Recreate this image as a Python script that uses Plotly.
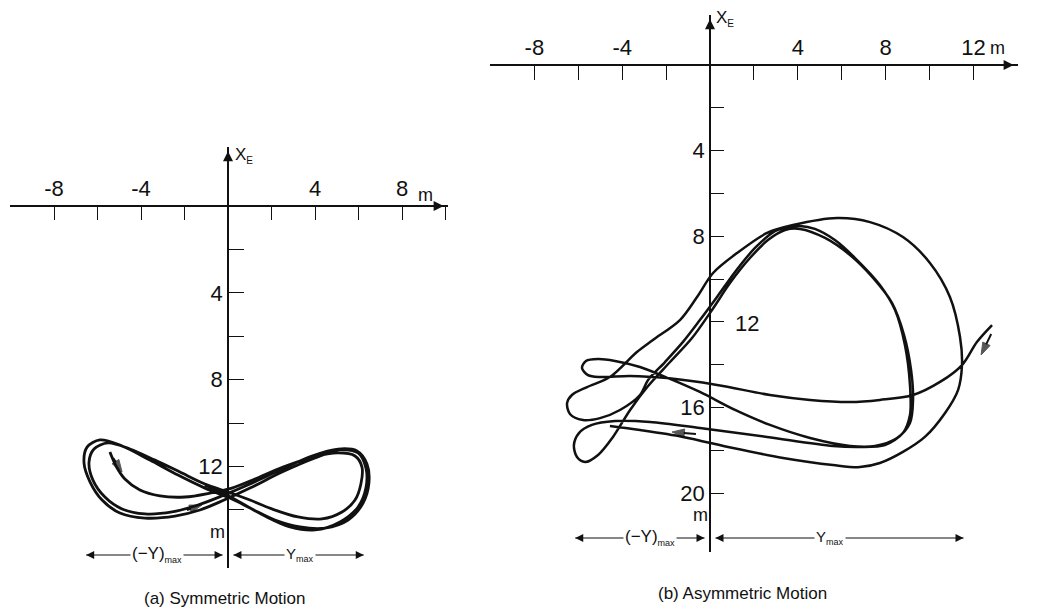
import plotly.graph_objects as go

W, H = 1047, 615
INK = "#111111"
FONT = "Liberation Sans"

# ---------------------------------------------------------------------------
# (a) Symmetric motion: drift trace, Y_E (across, m) and X_E (downward, m)
# ---------------------------------------------------------------------------
sym_y = [-5.43, -5.15, -4.74, -4.05, -3.13, -1.98, -0.83, 0.18,
         1.24, 2.53, 3.91, 5.06, 5.84, 6.16, 6.11, 5.84, 5.24, 4.32, 3.22, 2.02, 1.01, 0.0,
         -1.06, -2.21, -3.36, -4.51, -5.52, -6.16, -6.39, -6.21, -5.66, -4.87, -3.82, -2.57, -1.38, -0.28,
         1.01, 2.39, 3.86, 5.06, 5.93, 6.39, 6.48, 6.21, 5.52, 4.46, 3.31, 2.16, 1.10, 0.09,
         -1.06, -2.30, -3.59, -4.87, -5.89, -6.48, -6.62, -6.34, -5.79, -4.97, -3.82, -2.44, -1.29, -0.18,
         1.01, 2.48, 4.00, 5.15, 5.98, 6.34, 6.34, 5.98, 5.15, 4.00, 2.85, 1.70, 0.78, -0.14, -1.06]
sym_x = [11.34, 11.98, 12.58, 13.09, 13.36, 13.41, 13.23, 13.00,
         12.58, 12.03, 11.57, 11.38, 11.52, 12.03, 12.81, 13.55, 14.10, 14.42, 14.33, 13.96, 13.55, 13.18,
         12.81, 12.26, 11.71, 11.20, 10.92, 11.20, 11.80, 12.63, 13.41, 13.96, 14.19, 14.10, 13.78, 13.36,
         12.81, 12.17, 11.52, 11.20, 11.29, 11.89, 12.76, 13.69, 14.47, 14.84, 14.79, 14.47, 13.96, 13.46,
         13.00, 12.40, 11.71, 11.06, 10.78, 11.11, 11.84, 12.72, 13.55, 14.15, 14.38, 14.29, 14.01, 13.55,
         13.00, 12.26, 11.61, 11.24, 11.38, 12.07, 13.00, 13.87, 14.56, 14.93, 14.79, 14.29, 13.78, 13.27, 12.86]

# direction marks beside the trace: tail -> head (Y_E, X_E)
sym_dir_tail_y = [-5.28, -1.89]
sym_dir_tail_x = [11.61, 14.01]
sym_dir_head_y = [-4.87, -1.20]
sym_dir_head_x = [12.26, 13.78]

# lateral extents marked below the trace
sym_neg_ymax = -6.67
sym_ymax = 6.39

# ---------------------------------------------------------------------------
# (b) Asymmetric motion
# ---------------------------------------------------------------------------
asym_y = [12.85, 12.16, 11.48, 10.48, 9.25, 7.74, 6.38, 4.56, 2.73, 0.32, -1.96, -3.64, -5.01,
          -5.56, -5.83, -5.65, -5.10, -4.33, -3.19,
          -1.82, -0.46, 1.14, 2.73, 4.56, 6.38,
          7.52, 8.52, 9.11, 9.25, 9.16, 8.84, 8.29, 7.43, 6.38, 5.24, 4.10, 3.42,
          2.64, 1.82, 0.91, 0.09, -0.82, -1.82, -2.82, -3.64, -4.42, -5.10, -5.69,
          -6.06, -6.20, -5.97, -5.38, -4.33, -2.73, -0.46, 2.60, 5.60, 6.83,
          7.97, 8.79, 9.11, 9.11, 8.88, 8.43, 7.74, 6.61, 5.69, 4.78, 4.10,
          3.64, 2.96, 2.05, 1.14, 0.32, -0.46, -1.23, -2.05, -2.82,
          -3.19, -4.10, -5.01, -5.79, -6.38, -6.51, -6.29, -5.60, -4.56, -3.33, -2.60,
          -1.37, -0.59, 0.14, 1.23, 2.60, 3.78, 5.79, 7.29, 8.79, 10.02, 10.93, 11.39, 11.48,
          11.30, 10.71, 9.79, 8.79, 7.74, 6.83, 5.60, 3.33, 1.05, -1.23, -3.19, -4.56]
asym_x = [12.15, 12.94, 14.02, 14.81, 15.42, 15.65, 15.75, 15.65, 15.42, 14.95, 14.63, 14.53, 14.58,
          14.49, 14.16, 13.83, 13.74, 13.83, 14.11,
          14.67, 15.28, 16.12, 16.82, 17.43, 17.80,
          17.80, 17.43, 16.73, 15.65, 14.25, 12.62, 11.12, 9.95, 8.88, 8.08, 7.66, 7.71,
          8.18, 9.02, 10.19, 11.45, 12.76, 13.88, 15.00, 16.12, 17.38, 18.22, 18.55,
          18.32, 17.76, 17.20, 16.82, 16.64, 16.68, 16.96, 17.38, 17.80, 17.85,
          17.76, 17.20, 16.36, 14.95, 13.08, 11.45, 10.28, 9.02, 8.18, 7.66, 7.52,
          7.57, 7.76, 8.55, 9.67, 10.84, 11.92, 12.94, 13.88, 14.72,
          15.42, 16.12, 16.50, 16.59, 16.31, 15.79, 15.42, 15.05, 14.58, 13.41, 12.85,
          11.92, 10.84, 9.72, 8.79, 7.85, 7.48, 7.15, 7.34, 8.04, 9.25, 10.84, 12.71, 14.02,
          15.19, 16.26, 17.38, 18.08, 18.60, 18.79, 18.69, 18.36, 17.90, 17.38, 17.06, 16.87]

asym_dir_tail_y = [12.81, -0.64]
asym_dir_tail_x = [12.57, 17.24]
asym_dir_head_y = [12.35, -1.73]
asym_dir_head_x = [13.55, 17.15]

asym_neg_ymax = -6.29
asym_ymax = 11.70

# ---------------------------------------------------------------------------
# ticks: labelled (major) and plain (minor)
# ---------------------------------------------------------------------------
a_h_major = [-8, -4, 4, 8]
a_h_labels = ["-8", "-4", "4", "8"]
a_h_minor = [-10, -6, -2, 2, 6, 10]
a_v_major = [4, 8, 12]
a_v_labels = ["4", "8", "12"]
a_v_minor = [2, 6, 10, 14]

b_h_major = [-8, -4, 4, 8, 12]
b_h_labels = ["-8", "-4", "4", "8", "12"]
b_h_minor = [-10, -6, -2, 2, 6, 10, 14]
b_v_major = [4, 8, 16, 20]
b_v_labels = ["4", "8", "16", "20"]
b_v_minor = [2, 6, 10, 12, 14, 18]


def frame(ox, oy, sx, sy, left, right, top, bottom):
    """Axis ranges/domains for a crossed-axes frame whose origin sits at
    pixel (ox, oy) with sx, sy pixels per metre."""
    xr = [(left - ox) / sx, (right - ox) / sx]
    yr = [(bottom - oy) / sy, (top - oy) / sy]
    xdom = [left / W, right / W]
    ydom = [1 - bottom / H, 1 - top / H]
    return xr, yr, xdom, ydom, 1 - oy / H, ox / W


fa = frame(228, 206, 21.75, 21.7, 10, 448, 147, 568)
fb = frame(710, 65, 21.95, 21.4, 490, 1018, 15, 552)

tickfont = dict(family=FONT, size=22, color=INK)
axis_common = dict(showline=True, linecolor=INK, linewidth=1.7, ticks="inside",
                   tickcolor=INK, tickwidth=1.4, showgrid=False, zeroline=False,
                   tickmode="array", tickfont=tickfont, fixedrange=True)


def minor(vals, length):
    return dict(tickmode="array", tickvals=vals, ticks="inside", ticklen=length,
                tickwidth=1.4, tickcolor=INK, showgrid=False)


fig = go.Figure()


def path(xs, ys, xa, ya, width):
    fig.add_trace(go.Scatter(x=xs, y=ys, mode="lines", xaxis=xa, yaxis=ya,
                             line=dict(color=INK, width=width, shape="spline", smoothing=0.9),
                             hoverinfo="skip", showlegend=False))


def heads(xs, ys, symbols, xa, ya, size=10):
    fig.add_trace(go.Scatter(x=xs, y=ys, mode="markers", xaxis=xa, yaxis=ya,
                             cliponaxis=False,
                             marker=dict(symbol=symbols, size=size, color=INK,
                                         line=dict(width=0)),
                             hoverinfo="skip", showlegend=False))


def direction(ty, tx, hy, hx, xa, ya):
    for y0, x0, y1, x1 in zip(ty, tx, hy, hx):
        fig.add_trace(go.Scatter(x=[y0, y1], y=[x0, x1], mode="lines+markers",
                                 xaxis=xa, yaxis=ya,
                                 line=dict(color=INK, width=2.0),
                                 marker=dict(symbol="arrow", angleref="previous",
                                             size=[0, 13], color=INK,
                                             line=dict(width=1, color=INK)),
                                 hoverinfo="skip", showlegend=False))


def span(lo, hi, row, xa, ya):
    # dimension line with an arrowhead at each end
    fig.add_trace(go.Scatter(x=[lo, hi], y=[row, row], mode="lines+markers",
                             xaxis=xa, yaxis=ya, cliponaxis=False,
                             line=dict(color=INK, width=1.1),
                             marker=dict(symbol=["arrow-left", "arrow-right"], size=8,
                                         color=INK, line=dict(width=0)),
                             hoverinfo="skip", showlegend=False))


path(sym_y, sym_x, "x", "y", 2.8)
path(asym_y, asym_x, "x2", "y2", 2.5)
direction(sym_dir_tail_y, sym_dir_tail_x, sym_dir_head_y, sym_dir_head_x, "x", "y")
direction(asym_dir_tail_y, asym_dir_tail_x, asym_dir_head_y, asym_dir_head_x, "x2", "y2")

# axis end arrowheads
heads([fa[0][1] - 0.2, 0], [0, fa[1][1] + 0.2], ["arrow-right", "arrow-up"], "x", "y")
heads([fb[0][1] - 0.2, 0], [0, fb[1][1] + 0.2], ["arrow-right", "arrow-up"], "x2", "y2")

row_a = 16.08
span(sym_neg_ymax + 0.15, -0.25, row_a, "x", "y")
span(0.25, sym_ymax - 0.15, row_a, "x", "y")
row_b = 22.1
span(asym_neg_ymax + 0.15, -0.25, row_b, "x2", "y2")
span(0.25, asym_ymax - 0.15, row_b, "x2", "y2")

fig.update_layout(
    width=W, height=H, autosize=False,
    margin=dict(l=0, r=0, t=0, b=0, pad=0),
    paper_bgcolor="white", plot_bgcolor="rgba(0,0,0,0)",
    xaxis=dict(axis_common, side="top", anchor="free", position=fa[4], domain=fa[2],
               range=fa[0], tickvals=a_h_major, ticktext=a_h_labels, ticklen=13,
               minor=minor(a_h_minor, 13)),
    yaxis=dict(axis_common, side="left", anchor="free", position=fa[5], domain=fa[3],
               range=fa[1], tickvals=a_v_major, ticktext=a_v_labels, ticklen=15,
               minor=minor(a_v_minor, 15)),
    xaxis2=dict(axis_common, side="top", anchor="free", position=fb[4], domain=fb[2],
                range=fb[0], tickvals=b_h_major, ticktext=b_h_labels, ticklen=14,
                minor=minor(b_h_minor, 14)),
    yaxis2=dict(axis_common, side="left", anchor="free", position=fb[5], domain=fb[3],
                range=fb[1], tickvals=b_v_major, ticktext=b_v_labels, ticklen=13,
                minor=minor(b_v_minor, 13)),
)

ann = []


def text(x, y, s, xref, yref, size=18, xanchor="center", yanchor="middle", bg=None):
    d = dict(x=x, y=y, xref=xref, yref=yref, text=s, showarrow=False,
             xanchor=xanchor, yanchor=yanchor,
             font=dict(family=FONT, size=size, color=INK))
    if bg:
        d.update(bgcolor=bg, borderpad=1)
    ann.append(d)


sub_e = "<sub><span style='font-size:10px'>E</span></sub>"
sub_max = "<sub><span style='font-size:9px'>max</span></sub>"

# ---- panel (a) labels
text(10.45, 0.45, "Y" + sub_e, "x", "y", size=17, xanchor="left")
text(0.25, -2.35, "X" + sub_e, "x", "y", size=17, xanchor="left")
text(9.06, -0.5, "m", "x", "y", size=18)
text(-0.46, 15.02, "m", "x", "y", size=18)
text(-3.26, row_a, "(\u2212Y)" + sub_max, "x", "y", size=17, bg="white")
text(3.31, row_a, "Y" + sub_max, "x", "y", size=15, bg="white")
text(225 / W, 1 - 598 / H, "(a) Symmetric Motion", "paper", "paper", size=17)

# ---- panel (b) labels
text(14.15, 0.05, "Y" + sub_e, "x2", "y2", size=17, xanchor="left")
text(0.2, -2.15, "X" + sub_e, "x2", "y2", size=17, xanchor="left")
text(13.1, -0.8, "m", "x2", "y2", size=18)
text(1.05, 12.06, "12", "x2", "y2", size=22, xanchor="left")
text(-0.45, 21.05, "m", "x2", "y2", size=18)
text(-2.73, row_b, "(\u2212Y)" + sub_max, "x2", "y2", size=17, bg="white")
text(5.47, row_b, "Y" + sub_max, "x2", "y2", size=15, bg="white")
text(742 / W, 1 - 593 / H, "(b) Asymmetric Motion", "paper", "paper", size=17)

fig.update_layout(annotations=ann)
fig.write_html("out.html", config={"displayModeBar": False})
